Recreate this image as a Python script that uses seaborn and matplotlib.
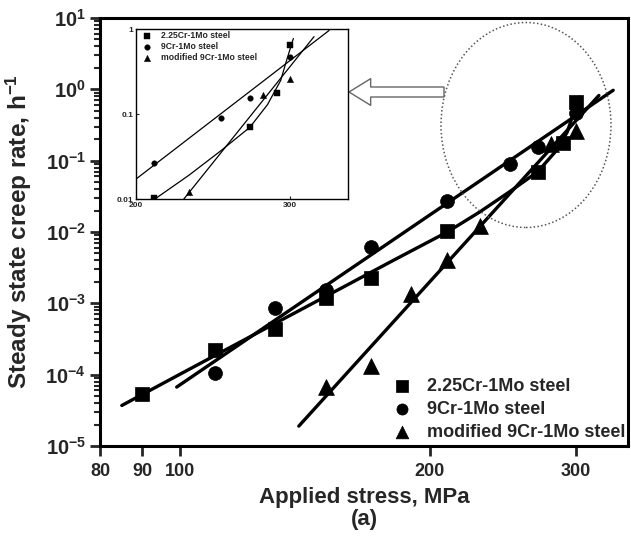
import matplotlib
matplotlib.use("Agg")
import matplotlib.pyplot as plt
import seaborn as sns
import numpy as np
from matplotlib.ticker import FixedLocator, NullLocator, LogLocator, NullFormatter
from matplotlib.patches import Ellipse

# ---------------- data ----------------
labels = ["2.25Cr-1Mo steel", "9Cr-1Mo steel", "modified 9Cr-1Mo steel"]

x_225 = [90, 110, 130, 150, 170, 210, 270, 290, 300]
y_225 = [5.3e-5, 2.2e-4, 4.35e-4, 1.17e-3, 2.28e-3, 1.04e-2, 0.07, 0.177, 0.66]

x_9 = [110, 130, 150, 170, 210, 250, 270, 300]
y_9 = [1.06e-4, 8.6e-4, 1.53e-3, 6.2e-3, 2.7e-2, 0.09, 0.155, 0.47]

x_m9 = [150, 170, 190, 210, 230, 280, 300]
y_m9 = [6.7e-5, 1.32e-4, 1.35e-3, 4.1e-3, 1.21e-2, 0.17, 0.26]

# fitted curves
fit_225_x = [85, 100, 130, 150, 180, 210, 230, 250, 270, 283, 293, 298, 303]
fit_225_y = [3.7e-5, 1.02e-4, 5.2e-4, 1.26e-3, 3.9e-3, 1.0e-2, 0.0192, 0.037, 0.07, 0.13, 0.25, 0.45, 0.78]
fit_9_x = [99, 333]
fit_9_y = [6.7e-5, 0.97]
fit_m9_x = [139, 320]
fit_m9_y = [1.9e-5, 0.82]

x_ticks = [80, 90, 100, 200, 300]
y_exps = [-5, -4, -3, -2, -1, 0, 1]
inset_xticks = [200, 300]
inset_yticks = [0.01, 0.1, 1]
inset_ytick_labels = ["0.01", "0.1", "1"]

# ---------------- style ----------------
sns.set_style("ticks")
plt.rcParams["font.family"] = ["Liberation Sans", "DejaVu Sans"]
plt.rcParams["font.weight"] = "bold"
plt.rcParams["mathtext.fontset"] = "custom"
plt.rcParams["mathtext.rm"] = "Liberation Sans:bold"
plt.rcParams["mathtext.bf"] = "Liberation Sans:bold"
plt.rcParams["mathtext.default"] = "bf"

W, H = 631, 538
fig = plt.figure(figsize=(W / 100, H / 100), dpi=100)
fig.patch.set_facecolor("white")

ax = fig.add_axes([100 / W, 1 - 446 / H, 528 / W, 428 / H])

series = [(x_225, y_225, "s", 100), (x_9, y_9, "o", 100), (x_m9, y_m9, "^", 130)]
fits = [(fit_225_x, fit_225_y), (fit_9_x, fit_9_y), (fit_m9_x, fit_m9_y)]

for (fx, fy) in fits:
    sns.lineplot(x=fx, y=fy, ax=ax, sort=False, estimator=None, color="black", lw=2.4)
for (xs, ys, m, s), lab in zip(series, labels):
    sns.scatterplot(x=xs, y=ys, ax=ax, marker=m, s=s, color="black", edgecolor="black",
                    linewidth=0.5, label=lab, zorder=5)

ax.set_xscale("log")
ax.set_yscale("log")
ax.set_xlim(80, 347)
ax.set_ylim(1e-5, 10)
ax.xaxis.set_major_locator(FixedLocator(x_ticks))
ax.xaxis.set_minor_locator(NullLocator())
ax.set_xticklabels([str(v) for v in x_ticks], fontsize=13, fontweight="bold")
ax.yaxis.set_major_locator(FixedLocator([10.0 ** e for e in y_exps]))
ax.yaxis.set_minor_locator(LogLocator(base=10, subs=np.arange(2, 10)))
ax.yaxis.set_minor_formatter(NullFormatter())
ax.set_yticklabels([r"$\mathbf{10^{%d}}$" % e for e in y_exps], fontsize=14.5)
ax.tick_params(which="major", direction="out", length=7, width=2, pad=5)
ax.tick_params(axis="y", which="major", pad=3)
ax.tick_params(which="minor", direction="out", length=4, width=1.5)
for sp in ax.spines.values():
    sp.set_linewidth(2.2)
    sp.set_color("black")
    sp.set_visible(True)

ax.set_xlabel("")
ax.set_ylabel(r"Steady state creep rate, h$^{\mathbf{-1}}$", fontsize=17.5, fontweight="bold")
ax.yaxis.set_label_coords(-0.125, 0.5)
fig.text(364 / W, 1 - 497 / H, "Applied stress, MPa", fontsize=16, fontweight="bold",
         ha="center", va="center")
fig.text(364 / W, 1 - 520 / H, "(a)", fontsize=16, fontweight="bold", ha="center", va="center")

leg = ax.legend(loc="upper left", bbox_to_anchor=(0.555, 0.16), frameon=False,
                fontsize=13, markerscale=0.8, handlelength=1.0, handletextpad=0.9,
                labelspacing=0.35, borderpad=0, borderaxespad=0)
for t in leg.get_texts():
    t.set_fontweight("bold")

# dotted ellipse and hollow arrow
ell = Ellipse((526 / W, 1 - 125 / H), 170 / W, 205 / H, transform=fig.transFigure,
              fill=False, ls=(0, (1, 1.5)), lw=1.1, ec="#555555", clip_on=False, zorder=2)
ax.add_patch(ell)
ax.annotate("", xy=(349, H - 92), xytext=(444, H - 92), xycoords="figure pixels",
            textcoords="figure pixels",
            arrowprops=dict(arrowstyle="simple,head_length=1.3,head_width=1.6,tail_width=0.6",
                            fc="white", ec="#666666", lw=1.0, mutation_scale=12,
                            shrinkA=0, shrinkB=0))

# ---------------- inset ----------------
axi = fig.add_axes([136 / W, 1 - 199.3 / H, 212 / W, 170 / H])
axi.set_facecolor("white")
for (fx, fy) in fits:
    sns.lineplot(x=fx, y=fy, ax=axi, sort=False, estimator=None, color="black", lw=0.9)
for (xs, ys, m, s), lab in zip(series, labels):
    sns.scatterplot(x=xs, y=ys, ax=axi, marker=m, s=s * 0.16, color="black",
                    edgecolor="black", linewidth=0.3, label=lab, zorder=5)
axi.set_xscale("log")
axi.set_yscale("log")
axi.set_xlim(200, 350)
axi.set_ylim(0.01, 1)
axi.xaxis.set_major_locator(FixedLocator(inset_xticks))
axi.xaxis.set_minor_locator(NullLocator())
axi.set_xticklabels([str(v) for v in inset_xticks], fontsize=6, fontweight="bold")
axi.yaxis.set_major_locator(FixedLocator(inset_yticks))
axi.yaxis.set_minor_locator(NullLocator())
axi.set_yticklabels(inset_ytick_labels, fontsize=6, fontweight="bold")
axi.tick_params(which="major", direction="in", length=2.5, width=0.8, pad=2)
for sp in axi.spines.values():
    sp.set_linewidth(1.0)
    sp.set_color("black")
axi.set_xlabel("")
axi.set_ylabel("")
legi = axi.legend(loc="upper left", bbox_to_anchor=(0.03, 0.99), frameon=False,
                  fontsize=6.2, markerscale=1.0, handlelength=1.0, handletextpad=1.2,
                  labelspacing=0.25, borderpad=0, borderaxespad=0)
for t in legi.get_texts():
    t.set_fontweight("bold")

fig.savefig("out.png", dpi=100)
